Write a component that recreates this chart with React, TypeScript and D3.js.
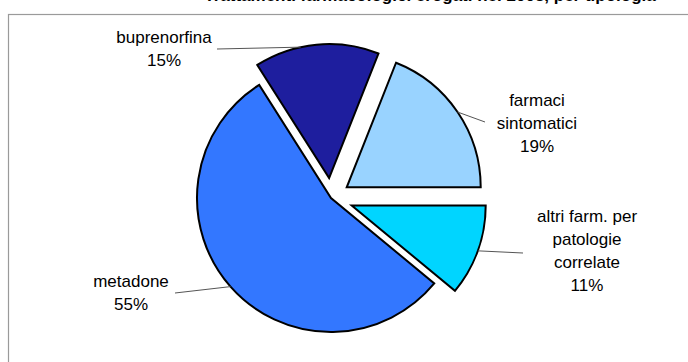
import React from 'react';
import * as d3 from 'd3';

// ---- data ----
const categories = ['farmaci sintomatici', 'altri farm. per patologie correlate', 'metadone', 'buprenorfina'];
const values = [19, 11, 55, 15];
const labelLines = [['farmaci', 'sintomatici'], ['altri farm. per', 'patologie', 'correlate'], ['metadone'], ['buprenorfina']];
const titleText = 'Trattamenti farmacologici erogati nel 2008, per tipologia';

// ---- style / layout ----
const colors = ['#99d3ff', '#00d5ff', '#3377ff', '#1e1e9e'];
const W = 688, H = 362;
const CX = 331, CY = 198, R = 134;
const START = (21.6 * Math.PI) / 180;
const explode = [19, 22, 0, 20];
const labelPos: [number, number][] = [[537, 106], [587, 222], [131, 287], [164, 43]];
const leaderEnd: [number, number][] = [[485, 122], [523, 253], [175, 293], [217, 49]];
const leaderAngleShift = [0, 0, 0, -0.12];
const LINE_H = 23;
const FONT = 'Liberation Sans, Arial, sans-serif';

export default function App() {
  const pie = d3.pie<number>().sort(null).value((d) => d).startAngle(START).endAngle(START + 2 * Math.PI);
  const arcs = pie(values);
  const arc = d3.arc<d3.PieArcDatum<number>>().innerRadius(0).outerRadius(R);

  return (
    <svg width={W} height={H} style={{ position: 'absolute', left: 0, top: 0, background: '#fff' }} fontFamily={FONT}>
      <rect x={0} y={0} width={W} height={H} fill="#fff" />
      <text x={430} y={1.2} textAnchor="middle" fontWeight="bold" fontSize={17} fill="#000">{titleText}</text>
      <rect x={8.5} y={14.5} width={W + 20} height={H + 20} fill="none" stroke="#9a9a9a" strokeWidth={1.2} />
      {arcs.map((a, i) => {
        const mid = (a.startAngle + a.endAngle) / 2;
        const ox = CX + explode[i] * Math.sin(mid);
        const oy = CY - explode[i] * Math.cos(mid);
        const la = mid + leaderAngleShift[i];
        const sx = ox + R * Math.sin(la);
        const sy = oy - R * Math.cos(la);
        const [lx, ly] = labelPos[i];
        const [ex, ey] = leaderEnd[i];
        const lines = [...labelLines[i], `${values[i]}%`];
        return (
          <g key={categories[i]}>
            <path d={arc(a) || ''} transform={`translate(${ox},${oy})`} fill={colors[i]} stroke="#000" strokeWidth={2} strokeLinejoin="miter" />
            <line x1={sx} y1={sy} x2={ex} y2={ey} stroke="#555" strokeWidth={1} />
            <text x={lx} y={ly} textAnchor="middle" fontSize={17} fill="#000">
              {lines.map((t, j) => (
                <tspan key={j} x={lx} y={ly + j * LINE_H}>{t}</tspan>
              ))}
            </text>
          </g>
        );
      })}
    </svg>
  );
}
